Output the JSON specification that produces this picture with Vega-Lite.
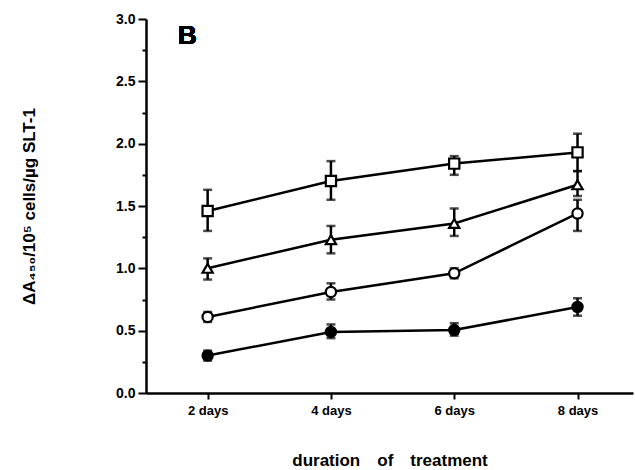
{
  "$schema": "https://vega.github.io/schema/vega-lite/v6.json",
  "width": 487,
  "height": 374,
  "autosize": {"type": "none"},
  "padding": {"left": 146, "top": 19, "right": 2, "bottom": 77},
  "background": "white",
  "config": {
    "view": {"stroke": null},
    "font": "Liberation Sans",
    "axis": {"domainColor": "black", "tickColor": "black", "labelColor": "black", "titleColor": "black", "grid": false, "domainWidth": 2.5, "tickWidth": 2, "labelFont": "Liberation Sans", "titleFont": "Liberation Sans", "labelFontWeight": "bold", "titleFontWeight": "bold"}
  },
  "data": {
    "values": [
      {"series": "A", "day": 2, "mean": 1.46, "lo": 1.30, "hi": 1.63},
      {"series": "A", "day": 4, "mean": 1.70, "lo": 1.55, "hi": 1.86},
      {"series": "A", "day": 6, "mean": 1.84, "lo": 1.75, "hi": 1.90},
      {"series": "A", "day": 8, "mean": 1.93, "lo": 1.78, "hi": 2.08},
      {"series": "B", "day": 2, "mean": 1.00, "lo": 0.91, "hi": 1.08},
      {"series": "B", "day": 4, "mean": 1.23, "lo": 1.12, "hi": 1.34},
      {"series": "B", "day": 6, "mean": 1.36, "lo": 1.26, "hi": 1.48},
      {"series": "B", "day": 8, "mean": 1.67, "lo": 1.58, "hi": 1.78},
      {"series": "C", "day": 2, "mean": 0.61, "lo": 0.57, "hi": 0.65},
      {"series": "C", "day": 4, "mean": 0.81, "lo": 0.75, "hi": 0.88},
      {"series": "C", "day": 6, "mean": 0.96, "lo": 0.92, "hi": 1.00},
      {"series": "C", "day": 8, "mean": 1.44, "lo": 1.30, "hi": 1.55},
      {"series": "D", "day": 2, "mean": 0.30, "lo": 0.26, "hi": 0.34},
      {"series": "D", "day": 4, "mean": 0.49, "lo": 0.44, "hi": 0.55},
      {"series": "D", "day": 6, "mean": 0.505, "lo": 0.46, "hi": 0.56},
      {"series": "D", "day": 8, "mean": 0.69, "lo": 0.62, "hi": 0.76}
    ]
  },
  "resolve": {"axis": {"y": "independent"}},
  "layer": [
    {
      "mark": {"type": "line", "color": "black", "strokeWidth": 2.5},
      "encoding": {
        "x": {"field": "day", "type": "quantitative", "scale": {"domain": [1, 8.9], "nice": false}, "axis": {"values": [2, 4, 6, 8], "labelExpr": "datum.value + ' days'", "labelFontSize": 13, "tickSize": 6, "labelPadding": 5, "title": "duration\u2003of\u2003treatment", "titleFontSize": 17, "titleY": 72, "titleBaseline": "alphabetic"}},
        "y": {"field": "mean", "type": "quantitative", "scale": {"domain": [0, 3], "nice": false}, "axis": {"orient": "left", "values": [0, 0.5, 1, 1.5, 2, 2.5, 3], "format": ".1f", "labelFontSize": 14, "tickSize": 8, "labelPadding": 3, "title": "\u0394A\u2084\u2085\u2080/10\u2075 cells/\u00b5g SLT-1", "titleFontSize": 17, "titleX": -108, "titleY": 187}},
        "detail": {"field": "series"}
      }
    },
    {
      "mark": {"type": "rule", "color": "black", "strokeWidth": 2.5},
      "encoding": {
        "x": {"field": "day", "type": "quantitative"},
        "y": {"field": "lo", "type": "quantitative", "axis": {"orient": "left", "values": [0.25, 0.75, 1.25, 1.75, 2.25, 2.75], "labels": false, "domain": false, "tickSize": 4, "title": null}},
        "y2": {"field": "hi"}
      }
    },
    {
      "mark": {"type": "tick", "color": "black", "orient": "horizontal", "size": 9, "thickness": 2.5},
      "encoding": {
        "x": {"field": "day", "type": "quantitative"},
        "y": {"field": "lo", "type": "quantitative", "axis": null}
      }
    },
    {
      "mark": {"type": "tick", "color": "black", "orient": "horizontal", "size": 9, "thickness": 2.5},
      "encoding": {
        "x": {"field": "day", "type": "quantitative"},
        "y": {"field": "hi", "type": "quantitative", "axis": null}
      }
    },
    {
      "mark": {"type": "point", "stroke": "black", "strokeWidth": 2.2, "opacity": 1, "size": 105},
      "encoding": {
        "x": {"field": "day", "type": "quantitative"},
        "y": {"field": "mean", "type": "quantitative", "axis": null},
        "shape": {"field": "series", "type": "nominal", "scale": {"domain": ["A", "B", "C", "D"], "range": ["square", "triangle-up", "circle", "circle"]}, "legend": null},
        "fill": {"field": "series", "type": "nominal", "scale": {"domain": ["A", "B", "C", "D"], "range": ["white", "white", "white", "black"]}, "legend": null}
      }
    },
    {
      "mark": {"type": "text", "text": "B", "fontSize": 26, "fontWeight": "bold", "color": "black", "font": "Liberation Sans"},
      "encoding": {
        "x": {"datum": 1.67},
        "y": {"datum": 2.86, "type": "quantitative", "axis": null}
      }
    }
  ]
}
